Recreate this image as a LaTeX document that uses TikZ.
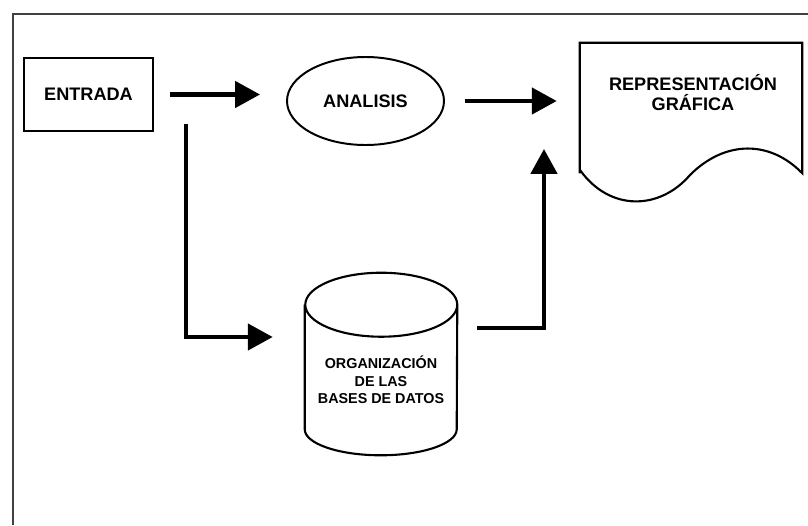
\documentclass[tikz,border=0pt]{standalone}
\usepackage{fontspec}
\setmainfont{Liberation Sans}
\usetikzlibrary{arrows.meta,shapes.geometric}
\tikzset{proc/.style={draw, line width=1.8pt, minimum width=3.225cm, minimum height=1.825cm, font=\fontsize{12.9}{14.2}\selectfont\bfseries}}
\tikzset{oval/.style={ellipse, draw, line width=1.4pt, minimum width=3.925cm, minimum height=2.2cm, font=\fontsize{12.9}{14.2}\selectfont\bfseries}}
\tikzset{store/.style={minimum width=3.8cm, minimum height=3.75cm, inner sep=0pt, align=center, font=\fontsize{10.2}{12.4}\selectfont\bfseries}}
\tikzset{doc/.style={minimum width=5.55cm, minimum height=3.25cm, inner sep=0pt}}
\tikzset{doctxt/.style={align=center, font=\fontsize{12.9}{14.2}\selectfont\bfseries}}
\tikzset{outline/.style={line width=1.5pt}}
\tikzset{arr/.style={draw, -{Triangle[length=0.62cm, width=0.65cm]}, line width=3pt}}

\begin{document}
\begin{tikzpicture}
    \useasboundingbox (0,0) rectangle (20.2,-13.125);
    % frame
    \draw[line width=1.2pt, black!75] (20.2,-0.35) -- (0.325,-0.35) -- (0.325,-13.125);

    \node[proc] (IN) at (2.2125,-2.3625) {ENTRADA};
    \node[oval] (AN) at (9.1375,-2.525) {ANALISIS};

    % data base cylinder
    \node[store] (DB) at (9.525,-9.5) {ORGANIZACIÓN\\DE LAS\\BASES DE DATOS};
    \draw[outline] (DB.north west) -- ([yshift=0.65cm]DB.south west)
        arc[start angle=180, end angle=360, x radius=1.9cm, y radius=0.65cm]
        -- (DB.north east) arc[start angle=0, end angle=360, x radius=1.9cm, y radius=0.8cm];

    % document
    \node[doc] (REP) at (17.275,-2.7) {};
    \node[doctxt] (REPtxt) at (17.325,-2.325) {REPRESENTACIÓN\\GRÁFICA};
    \draw[outline] (REP.south west) -- (REP.north west) -- (REP.north east) -- (REP.south east)
        .. controls (19.25,-3.5) and (18.125,-3.5) .. (17.25,-4.375)
        .. controls (16.5,-5.25) and (15.25,-5.3) .. (14.5,-4.25);

    \coordinate (split) at (4.65,-3.1);
    \coordinate (up) at (13.6,-3.725);

    \draw[arr, shorten <=0.4cm, shorten >=0.65cm] (IN.east) -- (IN.east -| AN.west);
    \draw[arr, shorten <=0.5cm, shorten >=0.575cm] (AN.east) -- (AN.east -| REP.west);
    \draw[arr, shorten >=0.8cm] (split) |- ([yshift=1.075cm]DB.west);
    \draw[arr, shorten <=0.5cm] ([yshift=1.3cm]DB.east) -| (up);
\end{tikzpicture}
\end{document}
